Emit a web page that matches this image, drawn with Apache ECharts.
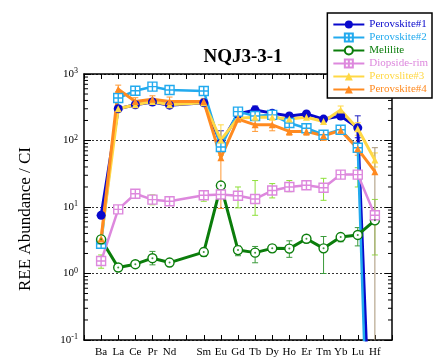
<!DOCTYPE html>
<html>
<head>
<meta charset="utf-8">
<title>NQJ3-3-1</title>
<script src="https://cdn.jsdelivr.net/npm/echarts@6.0.0/dist/echarts.min.js"></script>
<style>
  html, body { margin: 0; padding: 0; background: #fff; }
  #main { width: 434px; height: 358px; }
</style>
</head>
<body>
<div id="main"></div>
<script>
// CI-normalised REE patterns, index 5 (Pm) has no data
const elements = ['Ba', 'La', 'Ce', 'Pr', 'Nd', '', 'Sm', 'Eu', 'Gd', 'Tb', 'Dy', 'Ho', 'Er', 'Tm', 'Yb', 'Lu', 'Hf'];

const perovskite1 = [7.5, 300, 345, 380, 340, null, 370, 90, 250, 288, 258, 234, 251, 210, 234, 155, 0.00005];
const perovskite2 = [2.8, 435, 560, 645, 575, null, 555, 80, 272, 234, 243, 183, 153, 122, 145, 78, 0.000001];
const melilite = [3.26, 1.23, 1.38, 1.70, 1.46, null, 2.1, 21, 2.25, 2.06, 2.39, 2.37, 3.33, 2.39, 3.53, 3.8, 6.3];
const diopsideRim = [1.54, 9.2, 15.8, 12.9, 12.2, null, 15, 15.4, 14.8, 13.2, 17.7, 20, 21.2, 19.5, 30.7, 30.7, 7.5];
const perovskite3 = [3.35, 300, 345, 385, 345, null, 370, 102, 217, 224, 224, 210, 224, 193, 288, 150, 51];
const perovskite4 = [3.3, 590, 385, 418, 385, null, 385, 55, 210, 172, 172, 137, 137, 118, 142, 75, 34];

// error bars as [low, high], null where none is drawn
const perovskite1Err = [null, null, null, null, null, null, null, [70, 140], null, [250, 330], null, null, null, null, null, [110, 235], null];
const perovskite2Err = [[2.4, 3.2], null, null, null, null, null, null, null, null, null, null, null, null, null, null, null, null];
const meliliteErr = [null, null, [1.25, 1.5], [1.35, 2.15], null, null, [1.8, 2.4], null, [1.85, 2.6], [1.45, 2.55], [2.1, 2.7], [1.75, 3.1], [2.9, 3.7], [1.0, 3.6], [3.0, 4.0], [2.6, 4.9], null];
const diopsideErr = [[1.2, 1.9], [8.2, 10.5], [14.5, 17], [10.8, 15.2], null, null, [12.2, 17.5], null, [9.7, 20], [7.5, 25], [13.7, 22.5], [17, 25], [18.5, 24], [12.6, 27], [27, 35], [20, 39], [1.9, 13]];
const perovskite3Err = [null, null, null, null, null, null, null, [60, 172], null, null, null, null, null, null, [240, 330], [120, 185], [40, 65]];
const perovskite4Err = [null, [540, 680], [340, 440], [370, 470], [340, 450], null, [350, 430], [9.5, 75], [190, 230], [137, 219], [140, 210], [120, 160], [120, 155], [100, 135], [125, 160], [60, 95], null];
const hfSpread = [[16, 0.001, 78]];

// minor ticks of the log axis
const minorTicks = [];
[0.1, 1, 10, 100].forEach(function (d) {
  for (let m = 2; m <= 9; m++) minorTicks.push(+(m * d).toPrecision(3));
});

const serif = "'Liberation Serif', 'DejaVu Serif', 'Times New Roman', serif";
const squarePlus = 'path://M0,0 L10,0 L10,10 L0,10 Z M5,0 L5,10 M0,5 L10,5';

function toPoints(values) {
  let pts = [];
  values.forEach(function (v, i) {
    if (v != null) pts.push([i, v]);
  });
  return pts;
}

function toErr(errs) {
  let pts = [];
  errs.forEach(function (e, i) {
    if (e) pts.push([i, e[0], e[1]]);
  });
  return pts;
}

function errorBarItem(params, api) {
  let x = api.value(0);
  let top = api.coord([x, api.value(2)]);
  let bot = api.coord([x, api.value(1)]);
  let half = 3;
  let style = {stroke: api.visual('color'), lineWidth: 1};
  return {
    type: 'group',
    children: [
      {type: 'line', shape: {x1: top[0], y1: top[1], x2: bot[0], y2: bot[1]}, style: style},
      {type: 'line', shape: {x1: top[0] - half, y1: top[1], x2: top[0] + half, y2: top[1]}, style: style},
      {type: 'line', shape: {x1: bot[0] - half, y1: bot[1], x2: bot[0] + half, y2: bot[1]}, style: style}
    ]
  };
}

function minorTickItem(params, api) {
  let v = api.value(1);
  let l = api.coord([-1, v]);
  let r = api.coord([17, v]);
  let style = {stroke: '#000', lineWidth: 1};
  return {
    type: 'group',
    children: [
      {type: 'line', shape: {x1: l[0], y1: l[1], x2: l[0] + 4, y2: l[1]}, style: style},
      {type: 'line', shape: {x1: r[0] - 4, y1: r[1], x2: r[0], y2: r[1]}, style: style}
    ]
  };
}

function errSeries(name, errs, color) {
  return {
    name: name,
    type: 'custom',
    renderItem: errorBarItem,
    clip: true,
    silent: true,
    z: 1,
    itemStyle: {color: color},
    encode: {x: 0, y: [1, 2]},
    data: errs
  };
}

function lineSeries(name, values, color, width, symbol, size, fill) {
  return {
    name: name,
    type: 'line',
    data: toPoints(values),
    symbol: symbol,
    symbolSize: size,
    clip: true,
    z: 3,
    lineStyle: {color: color, width: width},
    itemStyle: {color: fill || color, borderColor: color, borderWidth: fill ? 1.4 : 0},
    emphasis: {disabled: true},
    animation: false
  };
}

const names = ['Perovskite#1', 'Perovskite#2', 'Melilite', 'Diopside-rim', 'Perovslite#3', 'Perovskite#4'];
const colors = ['#0808cc', '#22aaee', '#0b7d0b', '#dd88dd', '#ffd845', '#ff8a20'];

let chartDom = document.getElementById('main');
let myChart = echarts.init(chartDom, null, {renderer: 'canvas'});

let option = {
  animation: false,
  backgroundColor: '#fff',
  title: {
    text: 'NQJ3-3-1',
    left: 238,
    top: 43,
    textAlign: 'center',
    textStyle: {fontFamily: serif, fontSize: 19, fontWeight: 'bold', color: '#000'}
  },
  legend: {
    data: names.map(function (n, i) {
      return {name: n, textStyle: {color: colors[i]}};
    }),
    orient: 'vertical',
    right: 2,
    top: 13,
    itemWidth: 31,
    itemHeight: 10,
    itemGap: 2,
    padding: [6, 4, 3, 5],
    backgroundColor: '#fff',
    borderColor: '#000',
    borderWidth: 1.5,
    borderRadius: 0,
    textStyle: {fontFamily: serif, fontSize: 11, lineHeight: 10},
    selectedMode: false,
    z: 10
  },
  grid: {left: 84, right: 42, top: 74, bottom: 17, containLabel: false},
  xAxis: [{
    type: 'value',
    min: -1,
    max: 17,
    interval: 1,
    axisLine: {onZero: false, lineStyle: {color: '#000', width: 1.5}},
    axisTick: {inside: true, length: 5, lineStyle: {color: '#000'}},
    splitLine: {show: false},
    axisLabel: {
      margin: 7,
      fontFamily: serif,
      fontSize: 11,
      color: '#000',
      formatter: function (v) {
        return elements[v] || '';
      }
    }
  }, {
    type: 'value',
    position: 'top',
    min: -1,
    max: 17,
    interval: 1,
    axisLine: {onZero: false, lineStyle: {color: '#000', width: 1.5}},
    axisTick: {inside: true, length: 5, lineStyle: {color: '#000'}},
    splitLine: {show: false},
    axisLabel: {show: false}
  }],
  yAxis: [{
    type: 'log',
    logBase: 10,
    min: 0.1,
    max: 1000,
    name: 'REE Abundance / CI',
    nameLocation: 'middle',
    nameGap: 50,
    nameTextStyle: {fontFamily: serif, fontSize: 17, color: '#000', padding: [0, 24, 0, 0]},
    axisLine: {show: true, onZero: false, lineStyle: {color: '#000', width: 1.5}},
    axisTick: {inside: true, length: 7, lineStyle: {color: '#000'}},
    splitLine: {show: true, lineStyle: {color: '#333', width: 1, type: [2, 2]}},
    axisLabel: {
      margin: 6,
      formatter: function (v) {
        let e = Math.round(Math.log10(v));
        return '{b|10}{s|' + e + '}';
      },
      rich: {
        b: {fontFamily: serif, fontSize: 11, color: '#000'},
        s: {fontFamily: serif, fontSize: 8, color: '#000', verticalAlign: 'top', padding: [0, 0, 6, 0]}
      }
    }
  }, {
    type: 'log',
    logBase: 10,
    min: 0.1,
    max: 1000,
    position: 'right',
    axisLine: {show: true, onZero: false, lineStyle: {color: '#000', width: 1.5}},
    axisTick: {inside: true, length: 7, lineStyle: {color: '#000'}},
    splitLine: {show: false},
    axisLabel: {show: false}
  }],
  series: [
    errSeries('err1', toErr(perovskite1Err), '#2020c0'),
    errSeries('err2', toErr(perovskite2Err), '#30b0f0'),
    errSeries('err3', toErr(meliliteErr), '#3a9a3a'),
    errSeries('err4', toErr(diopsideErr), '#8ee03a'),
    errSeries('err5', toErr(perovskite3Err), '#ffd845'),
    errSeries('err6', toErr(perovskite4Err), '#ff9933'),
    errSeries('hf', hfSpread, '#a89677'),
    lineSeries(names[0], perovskite1, colors[0], 3, 'circle', 9),
    lineSeries(names[1], perovskite2, colors[1], 2.5, squarePlus, 9, '#fff'),
    lineSeries(names[2], melilite, colors[2], 3, 'circle', 9, '#fff'),
    {
      name: 'melilite-dot',
      type: 'scatter',
      data: toPoints(melilite),
      symbolSize: 2,
      itemStyle: {color: colors[2]},
      silent: true,
      z: 4
    },
    lineSeries(names[3], diopsideRim, colors[3], 2.5, squarePlus, 9, '#fff'),
    lineSeries(names[4], perovskite3, colors[4], 3, 'triangle', 7),
    lineSeries(names[5], perovskite4, colors[5], 3, 'triangle', 7),
    {
      name: 'minor',
      type: 'custom',
      renderItem: minorTickItem,
      silent: true,
      clip: false,
      z: 5,
      encode: {x: 0, y: 1},
      data: minorTicks.map(function (v) { return [-1, v]; })
    }
  ]
};

option && myChart.setOption(option);
</script>
</body>
</html>
